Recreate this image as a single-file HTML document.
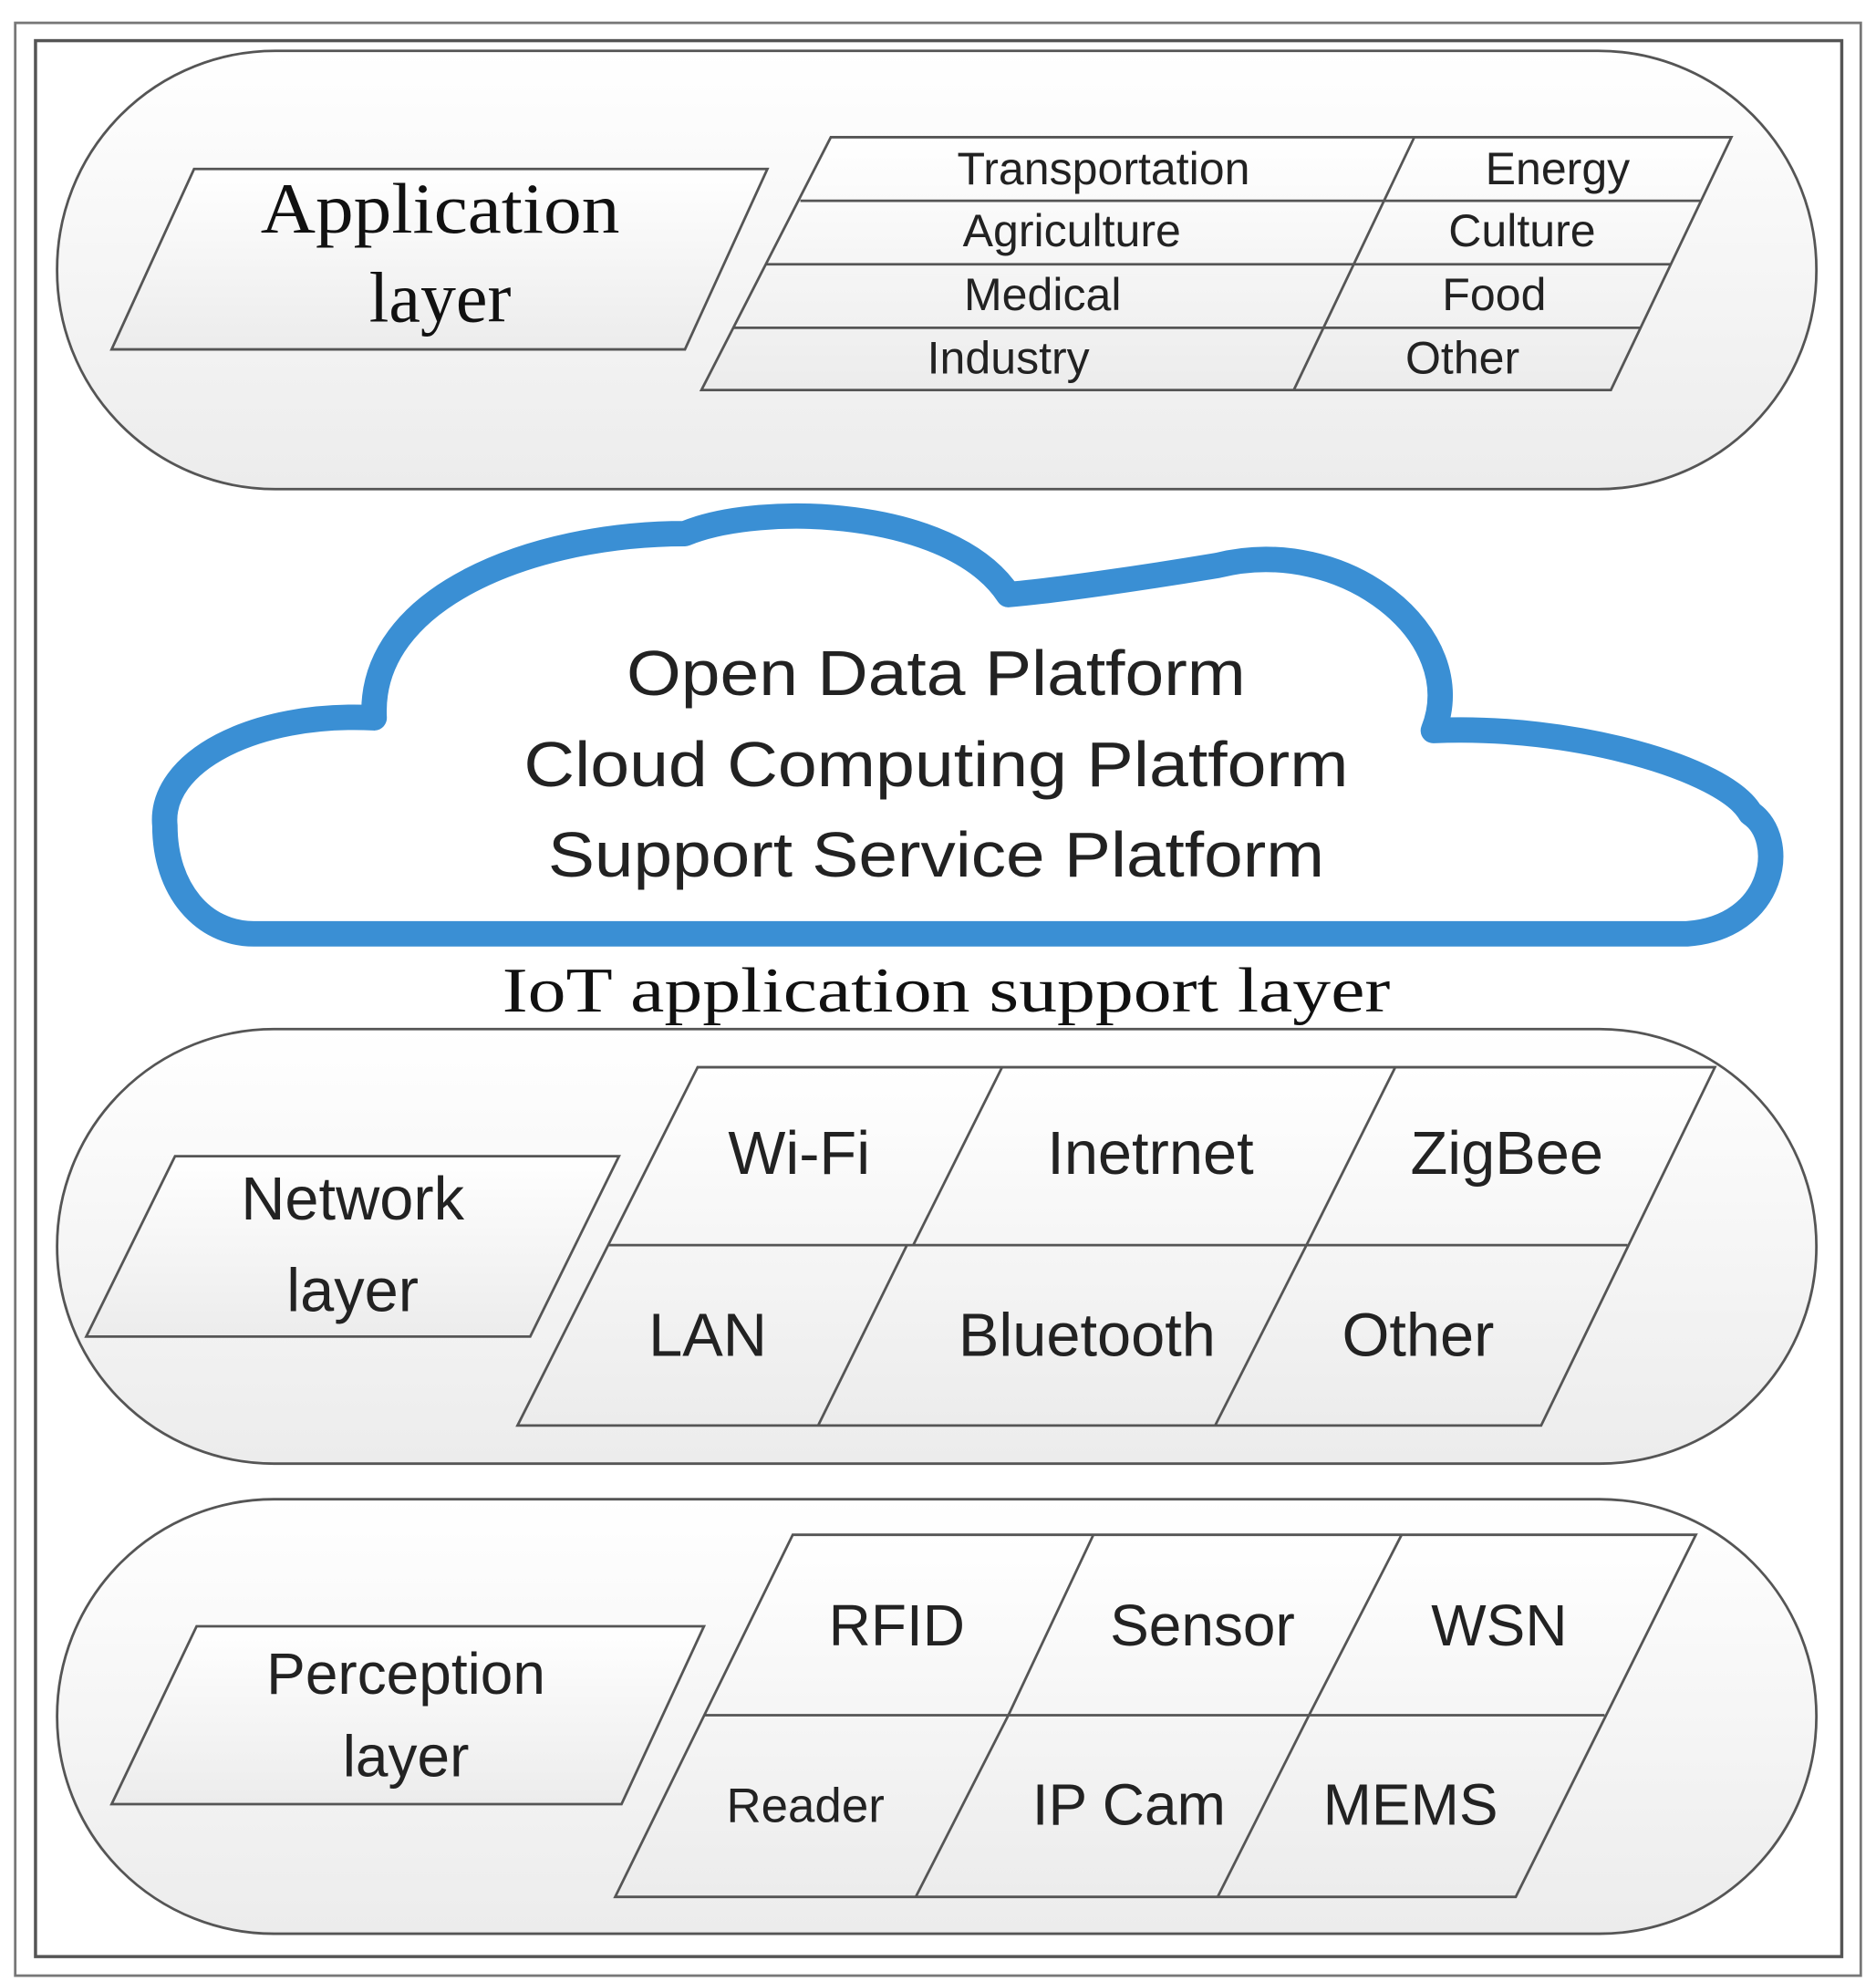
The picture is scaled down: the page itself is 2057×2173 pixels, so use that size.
<!DOCTYPE html>
<html><head><meta charset="utf-8"><style>html,body{margin:0;padding:0;background:#fff}svg{display:block}</style></head>
<body>
<svg width="2057" height="2173" viewBox="0 0 1479 1560" preserveAspectRatio="none" xmlns="http://www.w3.org/2000/svg">
<defs>
<linearGradient id="g" x1="0" y1="0" x2="0" y2="1"><stop offset="0" stop-color="#ffffff"/><stop offset="1" stop-color="#ececec"/></linearGradient>
</defs>
<rect x="0" y="0" width="1479" height="1560" fill="#fff"/>
<rect x="12" y="18" width="1455" height="1537" fill="none" stroke="#777" stroke-width="2"/>
<rect x="28" y="32" width="1424" height="1508" fill="none" stroke="#555" stroke-width="2.5"/>

<g stroke="#555" stroke-width="2" fill="url(#g)">
<rect x="45" y="40" width="1387" height="345" rx="172" />
<rect x="45" y="810" width="1387" height="342" rx="171" />
<rect x="45" y="1180" width="1387" height="342" rx="171" />
<polygon points="88,275 540,275 605,133 153,133"/>
<polygon points="655,108 1365,108 1270,307 553,307"/>
</g>
<g stroke="#555" stroke-width="2" fill="none">
<line x1="631" y1="158" x2="1341" y2="158"/>
<line x1="604" y1="208" x2="1317" y2="208"/>
<line x1="578" y1="258" x2="1293" y2="258"/>
<line x1="1115" y1="108" x2="1020" y2="307"/>
</g>
<g font-family="Liberation Sans, sans-serif" font-size="36" fill="#222" text-anchor="middle">
<text x="870" y="145">Transportation</text><text x="1228" y="145">Energy</text>
<text x="845" y="194">Agriculture</text><text x="1200" y="194">Culture</text>
<text x="822" y="244">Medical</text><text x="1178" y="244">Food</text>
<text x="795" y="294">Industry</text><text x="1153" y="294">Other</text>
</g>
<g font-family="Liberation Serif, serif" font-size="56" fill="#111" text-anchor="middle">
<text x="347" y="183" textLength="283" lengthAdjust="spacingAndGlyphs">Application</text><text x="347" y="253">layer</text>
<text x="746" y="796" font-size="50" textLength="700" lengthAdjust="spacingAndGlyphs">IoT application support layer</text>
</g>

<path d="M200,735 L1330,735 C1400,730 1410,660 1380,640 C1360,605 1240,570 1130,575 C1160,500 1060,420 960,445 C900,455 830,465 795,468 C750,400 600,395 540,420 C420,420 290,470 295,565 C200,560 125,600 130,650 C130,700 160,735 200,735 Z" fill="#fff" stroke="#3a8fd4" stroke-width="20" stroke-linejoin="round"/>
<g font-family="Liberation Sans, sans-serif" font-size="50" fill="#222" text-anchor="middle">
<text x="738" y="547" textLength="488" lengthAdjust="spacingAndGlyphs">Open Data Platform</text>
<text x="738" y="619" textLength="650" lengthAdjust="spacingAndGlyphs">Cloud Computing Platform</text>
<text x="738" y="690" textLength="612" lengthAdjust="spacingAndGlyphs">Support Service Platform</text>
</g>

<g stroke="#555" stroke-width="2" fill="url(#g)">
<polygon points="68,1052 418,1052 488,910 138,910"/>
<polygon points="550,840 1352,840 1215,1122 408,1122"/>
</g>
<g stroke="#555" stroke-width="2" fill="none">
<line x1="480" y1="980" x2="1283" y2="980"/>
<line x1="790" y1="840" x2="720" y2="980"/>
<line x1="1100" y1="840" x2="1030" y2="980"/>
<line x1="715" y1="980" x2="645" y2="1122"/>
<line x1="1030" y1="980" x2="958" y2="1122"/>
</g>
<g font-family="Liberation Sans, sans-serif" font-size="48" fill="#222" text-anchor="middle">
<text x="278" y="960">Network</text><text x="278" y="1032">layer</text>
<text x="630" y="924">Wi-Fi</text><text x="907" y="924">Inetrnet</text><text x="1188" y="924">ZigBee</text>
<text x="558" y="1067">LAN</text><text x="857" y="1067">Bluetooth</text><text x="1118" y="1067">Other</text>
</g>

<g stroke="#555" stroke-width="2" fill="url(#g)">
<polygon points="88,1420 490,1420 555,1280 155,1280"/>
<polygon points="625,1208 1337,1208 1195,1493 485,1493"/>
</g>
<g stroke="#555" stroke-width="2" fill="none">
<line x1="555" y1="1350" x2="1265" y2="1350"/>
<line x1="862" y1="1208" x2="795" y2="1350"/>
<line x1="1105" y1="1208" x2="1032" y2="1350"/>
<line x1="795" y1="1350" x2="722" y2="1493"/>
<line x1="1032" y1="1350" x2="960" y2="1493"/>
</g>
<g font-family="Liberation Sans, sans-serif" font-size="46" fill="#222" text-anchor="middle">
<text x="320" y="1333">Perception</text><text x="320" y="1398">layer</text>
<text x="707" y="1295">RFID</text><text x="948" y="1295">Sensor</text><text x="1182" y="1295">WSN</text>
<text x="635" y="1434" font-size="38">Reader</text><text x="890" y="1436">IP Cam</text><text x="1112" y="1436">MEMS</text>
</g>
</svg>
</body></html>
